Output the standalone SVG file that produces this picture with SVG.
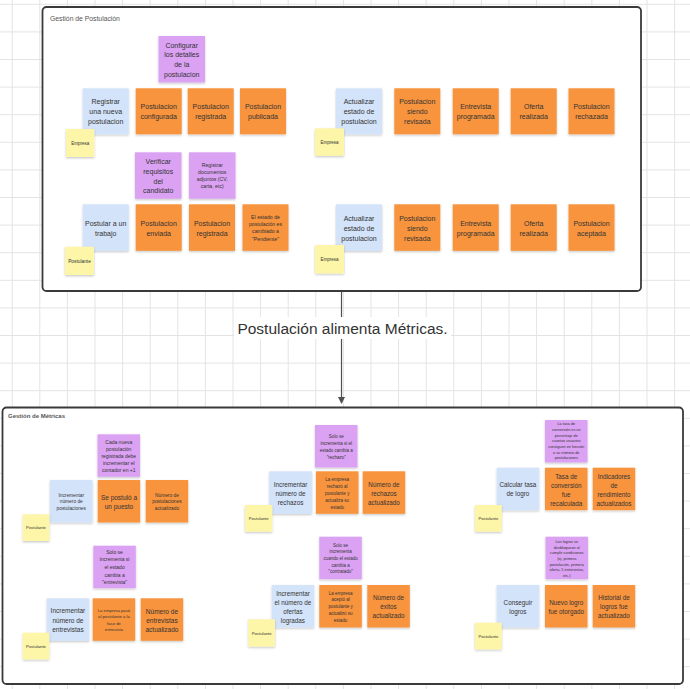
<svg xmlns="http://www.w3.org/2000/svg" width="690" height="689" viewBox="0 0 690 689">
<defs>
<pattern id="grid" x="11.7" y="3.8" width="27.6" height="27.6" patternUnits="userSpaceOnUse">
<path d="M0 0.5 H27.6 M0.5 0 V27.6" stroke="#e3e3e3" stroke-width="1" fill="none"/>
</pattern>
<filter id="sh" x="-20%" y="-20%" width="140%" height="150%">
<feDropShadow dx="0" dy="1.2" stdDeviation="0.9" flood-color="#000" flood-opacity="0.22"/>
</filter>
<marker id="ah" markerWidth="8" markerHeight="8" refX="6" refY="3.5" orient="auto" markerUnits="userSpaceOnUse">
<path d="M0 0 L7 3.5 L0 7 Z" fill="#505050"/>
</marker>
</defs>
<style>
.frame{fill:#fff;stroke:#3a3a3a;stroke-width:1.8}
.s{filter:url(#sh)}
.p{fill:#dba2f4}
.o{fill:#f8943c}
.b{fill:#d3e3fa}
.y{fill:#fdf6a8}
text{font-family:"Liberation Sans",Arial,sans-serif;fill:#333;text-anchor:middle;dominant-baseline:central}
.ft{text-anchor:start;dominant-baseline:auto;fill:#555}
</style>
<rect x="0" y="0" width="690" height="689" fill="#fff"/>
<rect x="0" y="0" width="690" height="689" fill="url(#grid)"/>

<g id="frame-postulacion">
<rect class="frame" x="42.5" y="7" width="598.5" height="284" rx="4"/>
<text class="ft" x="50" y="20.5" font-size="6.8">Gestión de Postulación</text>
</g>
<g id="frame-metricas">
<rect class="frame" x="2.5" y="407.5" width="680.5" height="276.5" rx="4"/>
<text class="ft" x="8" y="418" font-size="6" font-weight="bold" fill="#333">Gestión de Métricas</text>
</g>

<g id="connectors">
<line x1="341.5" y1="292" x2="341.5" y2="403" stroke="#505050" stroke-width="1.2" marker-end="url(#ah)"/>
<rect x="234" y="317" width="217" height="22" fill="#fff"/>
<text x="342.5" y="328" font-size="15.5" fill="#3d3d3d">Postulación alimenta Métricas.</text>
</g>

<!-- Top frame row 1 left -->
<g id="n-configurar"><rect class="s p" x="158.5" y="36" width="46.5" height="46.5"/>
<text font-size="7"><tspan x="181.75" y="44.7">Configurar</tspan><tspan x="181.75" y="54.4">los detalles</tspan><tspan x="181.75" y="64.1">de la</tspan><tspan x="181.75" y="73.8">postulacion</tspan></text></g>
<g id="n-registrar"><rect class="s b" x="82.7" y="88.3" width="46" height="46"/>
<text font-size="7"><tspan x="105.7" y="101.3">Registrar</tspan><tspan x="105.7" y="111.3">una nueva</tspan><tspan x="105.7" y="121.3">postulacion</tspan></text></g>
<g id="n-configurada"><rect class="s o" x="135.7" y="88.3" width="46" height="46"/>
<text font-size="7"><tspan x="158.7" y="106.3">Postulacion</tspan><tspan x="158.7" y="116.3">configurada</tspan></text></g>
<g id="n-registrada1"><rect class="s o" x="187.7" y="88.3" width="46" height="46"/>
<text font-size="7"><tspan x="210.7" y="106.3">Postulacion</tspan><tspan x="210.7" y="116.3">registrada</tspan></text></g>
<g id="n-publicada"><rect class="s o" x="240" y="88.3" width="46" height="46"/>
<text font-size="7"><tspan x="263" y="106.3">Postulacion</tspan><tspan x="263" y="116.3">publicada</tspan></text></g>
<g id="n-empresa1"><rect class="s y" x="66" y="129" width="28.3" height="28"/>
<text font-size="4.5" x="80.2" y="143">Empresa</text></g>

<!-- Top frame row 1 right -->
<g id="n-actualizar1"><rect class="s b" x="336" y="88.3" width="46" height="46"/>
<text font-size="7"><tspan x="359" y="101.3">Actualizar</tspan><tspan x="359" y="111.3">estado de</tspan><tspan x="359" y="121.3">postulacion</tspan></text></g>
<g id="n-revisada1"><rect class="s o" x="394.3" y="88.3" width="46" height="46"/>
<text font-size="7"><tspan x="417.3" y="101.3">Postulacion</tspan><tspan x="417.3" y="111.3">siendo</tspan><tspan x="417.3" y="121.3">revisada</tspan></text></g>
<g id="n-entrevista1"><rect class="s o" x="452.7" y="88.3" width="46" height="46"/>
<text font-size="7"><tspan x="475.7" y="106.3">Entrevista</tspan><tspan x="475.7" y="116.3">programada</tspan></text></g>
<g id="n-oferta1"><rect class="s o" x="510.7" y="88.3" width="46" height="46"/>
<text font-size="7"><tspan x="533.7" y="106.3">Oferta</tspan><tspan x="533.7" y="116.3">realizada</tspan></text></g>
<g id="n-rechazada"><rect class="s o" x="568.5" y="88.3" width="46" height="46"/>
<text font-size="7"><tspan x="591.5" y="106.3">Postulacion</tspan><tspan x="591.5" y="116.3">rechazada</tspan></text></g>
<g id="n-empresa2"><rect class="s y" x="315" y="128.3" width="29" height="27.5"/>
<text font-size="4.5" x="329.5" y="142">Empresa</text></g>

<!-- Top frame row 2 left -->
<g id="n-verificar"><rect class="s p" x="135" y="152.3" width="46.5" height="46.5"/>
<text font-size="7"><tspan x="158.25" y="161">Verificar</tspan><tspan x="158.25" y="170.8">requisitos</tspan><tspan x="158.25" y="180.6">del</tspan><tspan x="158.25" y="190.4">candidato</tspan></text></g>
<g id="n-documentos"><rect class="s p" x="189" y="152.3" width="46.5" height="46.5"/>
<text font-size="5.2"><tspan x="212.25" y="165">Registrar</tspan><tspan x="212.25" y="172">documentos</tspan><tspan x="212.25" y="179">adjuntos (CV,</tspan><tspan x="212.25" y="186">carta, etc)</tspan></text></g>
<g id="n-postular"><rect class="s b" x="82.7" y="204.3" width="46" height="46.5"/>
<text font-size="7"><tspan x="105.7" y="222.5">Postular a un</tspan><tspan x="105.7" y="232.5">trabajo</tspan></text></g>
<g id="n-enviada"><rect class="s o" x="135.7" y="204.3" width="46" height="46.5"/>
<text font-size="7"><tspan x="158.7" y="222.5">Postulacion</tspan><tspan x="158.7" y="232.5">enviada</tspan></text></g>
<g id="n-registrada2"><rect class="s o" x="189" y="204.3" width="46" height="46.5"/>
<text font-size="7"><tspan x="212" y="222.5">Postulacion</tspan><tspan x="212" y="232.5">registrada</tspan></text></g>
<g id="n-pendiente"><rect class="s o" x="242.5" y="204.3" width="46" height="46.5"/>
<text font-size="5.2"><tspan x="265.5" y="216.6">El estado de</tspan><tspan x="265.5" y="223.9">postulación es</tspan><tspan x="265.5" y="231.2">cambiado a</tspan><tspan x="265.5" y="238.5">"Pendiente"</tspan></text></g>
<g id="n-postulante1"><rect class="s y" x="65" y="246.7" width="29" height="28.3"/>
<text font-size="4.8" x="79.5" y="261">Postulante</text></g>

<!-- Top frame row 2 right -->
<g id="n-actualizar2"><rect class="s b" x="336" y="204.3" width="46" height="46.5"/>
<text font-size="7"><tspan x="359" y="217.5">Actualizar</tspan><tspan x="359" y="227.5">estado de</tspan><tspan x="359" y="237.5">postulacion</tspan></text></g>
<g id="n-revisada2"><rect class="s o" x="394.3" y="204.3" width="46" height="46.5"/>
<text font-size="7"><tspan x="417.3" y="217.5">Postulacion</tspan><tspan x="417.3" y="227.5">siendo</tspan><tspan x="417.3" y="237.5">revisada</tspan></text></g>
<g id="n-entrevista2"><rect class="s o" x="452.7" y="204.3" width="46" height="46.5"/>
<text font-size="7"><tspan x="475.7" y="222.5">Entrevista</tspan><tspan x="475.7" y="232.5">programada</tspan></text></g>
<g id="n-oferta2"><rect class="s o" x="510.7" y="204.3" width="46" height="46.5"/>
<text font-size="7"><tspan x="533.7" y="222.5">Oferta</tspan><tspan x="533.7" y="232.5">realizada</tspan></text></g>
<g id="n-aceptada"><rect class="s o" x="568.5" y="204.3" width="46" height="46.5"/>
<text font-size="7"><tspan x="591.5" y="222.5">Postulacion</tspan><tspan x="591.5" y="232.5">aceptada</tspan></text></g>
<g id="n-empresa3"><rect class="s y" x="315" y="245" width="29" height="28.5"/>
<text font-size="4.5" x="329.5" y="259.3">Empresa</text></g>

<!-- Bottom: postulaciones -->
<g id="m-cada"><rect class="s p" x="97.5" y="434.3" width="42.5" height="42.5"/>
<text font-size="5"><tspan x="118.75" y="441.5">Cada nueva</tspan><tspan x="118.75" y="448.5">postulación</tspan><tspan x="118.75" y="455.5">registrada debe</tspan><tspan x="118.75" y="462.5">incrementar el</tspan><tspan x="118.75" y="469.5">contador en +1</tspan></text></g>
<g id="m-inc-post"><rect class="s b" x="50" y="480" width="42.5" height="42.5"/>
<text font-size="4.8"><tspan x="71.25" y="494.5">Incrementar</tspan><tspan x="71.25" y="501.2">número de</tspan><tspan x="71.25" y="507.9">postulaciones</tspan></text></g>
<g id="m-se-postulo"><rect class="s o" x="97.7" y="480" width="42.5" height="42.5"/>
<text font-size="6.5"><tspan x="118.95" y="496.7">Se postuló a</tspan><tspan x="118.95" y="505.7">un puesto</tspan></text></g>
<g id="m-num-post"><rect class="s o" x="145.7" y="480" width="42.5" height="42.5"/>
<text font-size="4.8"><tspan x="166.95" y="494.5">Número de</tspan><tspan x="166.95" y="501.2">postulaciones</tspan><tspan x="166.95" y="507.9">actualizado</tspan></text></g>
<g id="m-postulante1"><rect class="s y" x="22.7" y="514.3" width="26.7" height="26.7"/>
<text font-size="4.2" x="36" y="527.6">Postulante</text></g>

<!-- Bottom: entrevistas -->
<g id="m-solo-entrevista"><rect class="s p" x="93.3" y="545.7" width="42.5" height="42.5"/>
<text font-size="5"><tspan x="114.55" y="551.6">Solo se</tspan><tspan x="114.55" y="559.3">incrementa si</tspan><tspan x="114.55" y="567">el estado</tspan><tspan x="114.55" y="574.7">cambia a</tspan><tspan x="114.55" y="582.4">"entrevista"</tspan></text></g>
<g id="m-inc-entr"><rect class="s b" x="46.7" y="598.3" width="42.5" height="42.5"/>
<text font-size="6.5"><tspan x="67.95" y="610.3">Incrementar</tspan><tspan x="67.95" y="619.6">número de</tspan><tspan x="67.95" y="628.9">entrevistas</tspan></text></g>
<g id="m-paso"><rect class="s o" x="92.7" y="598.3" width="42.5" height="42.5"/>
<text font-size="4.2"><tspan x="113.95" y="609.8">La empresa pasó</tspan><tspan x="113.95" y="616.3">al postulante a la</tspan><tspan x="113.95" y="622.8">fase de</tspan><tspan x="113.95" y="629.3">entrevista</tspan></text></g>
<g id="m-num-entr"><rect class="s o" x="140.7" y="598.3" width="42.5" height="42.5"/>
<text font-size="6.5"><tspan x="161.95" y="610.5">Número de</tspan><tspan x="161.95" y="619.5">entrevistas</tspan><tspan x="161.95" y="628.5">actualizado</tspan></text></g>
<g id="m-postulante2"><rect class="s y" x="22.7" y="632.7" width="26.7" height="26.7"/>
<text font-size="4.2" x="36" y="646">Postulante</text></g>

<!-- Bottom: rechazos -->
<g id="m-solo-rechazo"><rect class="s p" x="315" y="425" width="42.5" height="42.5"/>
<text font-size="4.5"><tspan x="336.25" y="435.8">Solo se</tspan><tspan x="336.25" y="442.8">incrementa si el</tspan><tspan x="336.25" y="449.8">estado cambia a</tspan><tspan x="336.25" y="456.8">"rechazo"</tspan></text></g>
<g id="m-inc-rech"><rect class="s b" x="269.3" y="471.3" width="42.5" height="42.5"/>
<text font-size="6.3"><tspan x="290.55" y="483.5">Incrementar</tspan><tspan x="290.55" y="492.5">número de</tspan><tspan x="290.55" y="501.5">rechazos</tspan></text></g>
<g id="m-rechazo"><rect class="s o" x="316" y="471.3" width="42.5" height="42.5"/>
<text font-size="4.5"><tspan x="337.25" y="479.4">La empresa</tspan><tspan x="337.25" y="486.2">rechazó al</tspan><tspan x="337.25" y="493">postulante y</tspan><tspan x="337.25" y="499.8">actualiza su</tspan><tspan x="337.25" y="506.6">estado</tspan></text></g>
<g id="m-num-rech"><rect class="s o" x="362.7" y="471.3" width="42.5" height="42.5"/>
<text font-size="6.3"><tspan x="383.95" y="483.5">Número de</tspan><tspan x="383.95" y="492.5">rechazos</tspan><tspan x="383.95" y="501.5">actualizado</tspan></text></g>
<g id="m-postulante3"><rect class="s y" x="245" y="505" width="27.3" height="26.7"/>
<text font-size="4.2" x="258.65" y="518.3">Postulante</text></g>

<!-- Bottom: exitos -->
<g id="m-solo-contratado"><rect class="s p" x="319.3" y="536.7" width="42.5" height="42.5"/>
<text font-size="4.5"><tspan x="340.55" y="544.6">Solo se</tspan><tspan x="340.55" y="551.3">incrementa</tspan><tspan x="340.55" y="558">cuando el estado</tspan><tspan x="340.55" y="564.7">cambia a</tspan><tspan x="340.55" y="571.4">"contratado"</tspan></text></g>
<g id="m-inc-ofertas"><rect class="s b" x="271.7" y="585" width="42.5" height="42.5"/>
<text font-size="6.3"><tspan x="292.95" y="592.7">Incrementar</tspan><tspan x="292.95" y="601.7">el número de</tspan><tspan x="292.95" y="610.7">ofertas</tspan><tspan x="292.95" y="619.7">logradas</tspan></text></g>
<g id="m-acepto"><rect class="s o" x="319.3" y="585" width="42.5" height="42.5"/>
<text font-size="4.5"><tspan x="340.55" y="592.6">La empresa</tspan><tspan x="340.55" y="599.4">aceptó al</tspan><tspan x="340.55" y="606.2">postulante y</tspan><tspan x="340.55" y="613">actualizó su</tspan><tspan x="340.55" y="619.8">estado</tspan></text></g>
<g id="m-num-exitos"><rect class="s o" x="367.3" y="585" width="42.5" height="42.5"/>
<text font-size="6.3"><tspan x="388.55" y="597.2">Número de</tspan><tspan x="388.55" y="606.2">éxitos</tspan><tspan x="388.55" y="615.2">actualizado</tspan></text></g>
<g id="m-postulante4"><rect class="s y" x="248.3" y="619.3" width="26.7" height="27.3"/>
<text font-size="4.2" x="261.65" y="633">Postulante</text></g>

<!-- Bottom: tasa -->
<g id="m-tasa-nota"><rect class="s p" x="545" y="420" width="42.5" height="42.5"/>
<text font-size="3.8"><tspan x="566.25" y="424.1">La tasa de</tspan><tspan x="566.25" y="429.8">conversión es un</tspan><tspan x="566.25" y="435.5">porcentaje de</tspan><tspan x="566.25" y="441.2">cuantos usuarios</tspan><tspan x="566.25" y="446.9">consiguen en función</tspan><tspan x="566.25" y="452.6">a su número de</tspan><tspan x="566.25" y="458.3">postulaciones</tspan></text></g>
<g id="m-calcular"><rect class="s b" x="496.7" y="467.7" width="42.5" height="42.5"/>
<text font-size="6.3"><tspan x="517.95" y="484.4">Calcular tasa</tspan><tspan x="517.95" y="493.4">de logro</tspan></text></g>
<g id="m-tasa"><rect class="s o" x="545" y="467.7" width="42.5" height="42.5"/>
<text font-size="6.3"><tspan x="566.25" y="475.5">Tasa de</tspan><tspan x="566.25" y="484.5">conversión</tspan><tspan x="566.25" y="493.5">fue</tspan><tspan x="566.25" y="502.5">recalculada</tspan></text></g>
<g id="m-indicadores"><rect class="s o" x="592.7" y="467.7" width="42.5" height="42.5"/>
<text font-size="6.3"><tspan x="613.95" y="475.5">Indicadores</tspan><tspan x="613.95" y="484.5">de</tspan><tspan x="613.95" y="493.5">rendimiento</tspan><tspan x="613.95" y="502.5">actualizados</tspan></text></g>
<g id="m-postulante5"><rect class="s y" x="475" y="505" width="26.7" height="26.7"/>
<text font-size="4.2" x="488.35" y="518.3">Postulante</text></g>

<!-- Bottom: logros -->
<g id="m-logros-nota"><rect class="s p" x="545.5" y="536.7" width="42.5" height="42.5"/>
<text font-size="3.8"><tspan x="566.75" y="541.8">Los logros se</tspan><tspan x="566.75" y="547.5">desbloquean al</tspan><tspan x="566.75" y="553.2">cumplir condiciones</tspan><tspan x="566.75" y="558.9">(ej. primera</tspan><tspan x="566.75" y="564.6">postulación, primera</tspan><tspan x="566.75" y="570.3">oferta, 5 entrevistas,</tspan><tspan x="566.75" y="576">etc.)</tspan></text></g>
<g id="m-conseguir"><rect class="s b" x="496.7" y="585" width="42.5" height="42.5"/>
<text font-size="6.3"><tspan x="517.95" y="601.7">Conseguir</tspan><tspan x="517.95" y="610.7">logros</tspan></text></g>
<g id="m-nuevo"><rect class="s o" x="545" y="585" width="42.5" height="42.5"/>
<text font-size="6.3"><tspan x="566.25" y="601.7">Nuevo logro</tspan><tspan x="566.25" y="610.7">fue otorgado</tspan></text></g>
<g id="m-historial"><rect class="s o" x="592.7" y="585" width="42.5" height="42.5"/>
<text font-size="6.3"><tspan x="613.95" y="597.2">Historial de</tspan><tspan x="613.95" y="606.2">logros fue</tspan><tspan x="613.95" y="615.2">actualizado</tspan></text></g>
<g id="m-postulante6"><rect class="s y" x="475" y="622.7" width="26.7" height="26.7"/>
<text font-size="4.2" x="488.35" y="636">Postulante</text></g>
</svg>
